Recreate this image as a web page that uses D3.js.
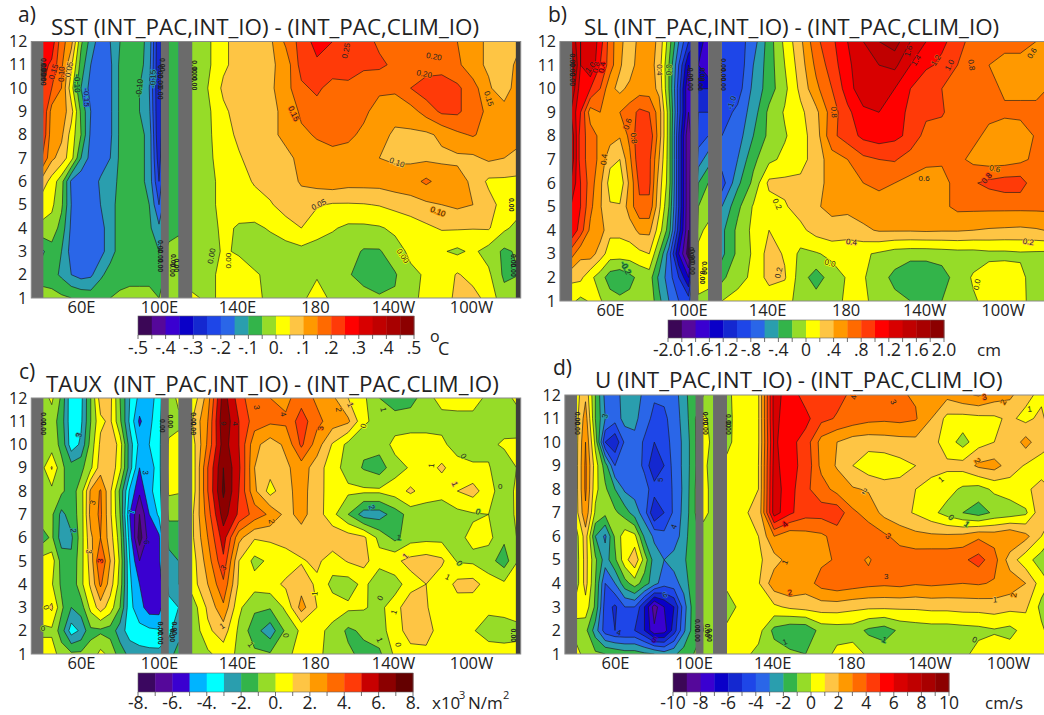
<!DOCTYPE html>
<html lang="en">
<head>
<meta charset="UTF-8">
<title>Indian Ocean interannual forcing differences</title>
<style>
  body { margin: 0; background: #fff; font-family: "Open Sans", sans-serif; }
  svg { display: block; }
  .axis text { font-family: "Open Sans", sans-serif; fill: #222; }
  .clabel { font-family: "Liberation Sans", sans-serif; fill: #222; text-anchor: middle; dominant-baseline: central; paint-order: stroke; }
</style>
</head>
<body>
<svg width="1044" height="715"></svg>
<script src="https://d3js.org/d3.v7.min.js"></script>
<script>
const monthTicks = [1,2,3,4,5,6,7,8,9,10,11,12];
const lonTicks = [60,100,140,180,220,260];
const lonTickLabels = ["60E","100E","140E","180","140W","100W"];
const ioLons = [40,45,50,55,60,65,70,75,80,85,90,95,100,105,110];
const pacLons = [117,125,133,141,149,157,165,173,181,189,197,205,213,221,229,237,245,253,261,269,277,285];

// rows run from month 12 (top) down to month 1
const sstIO = [
  [.3,.28,.17,.12,-.04,-.12,-.18,-.15,-.1,-.08,-.08,-.12,-.3,-.08,-.07],
  [.27,.24,.16,.06,-.07,-.15,-.18,-.16,-.09,-.07,-.08,-.13,-.3,-.08,-.07],
  [.25,.2,.15,.02,-.1,-.17,-.18,-.16,-.09,-.07,-.1,-.15,-.3,-.08,-.07],
  [.26,.13,.13,.07,-.06,-.15,-.19,-.16,-.09,-.07,-.1,-.14,-.3,-.08,-.07],
  [.25,.12,.11,.03,-.05,-.16,-.19,-.16,-.09,-.07,-.08,-.12,-.3,-.08,-.07],
  [.2,.11,.08,.02,-.1,-.17,-.19,-.15,-.09,-.07,-.08,-.12,-.28,-.08,-.07],
  [.08,.03,-.03,-.16,-.19,-.19,-.14,-.12,-.09,-.07,-.08,-.12,-.25,-.08,-.07],
  [.02,.01,-.04,-.15,-.2,-.2,-.15,-.12,-.08,-.07,-.07,-.1,-.2,-.08,-.07],
  [-.01,-.02,-.07,-.16,-.2,-.2,-.17,-.12,-.08,-.07,-.07,-.09,-.14,-.08,-.06],
  [-.11,-.07,-.1,-.17,-.2,-.2,-.17,-.12,-.08,-.07,-.07,-.08,-.1,-.03,-.03],
  [-.07,-.08,-.11,-.15,-.17,-.16,-.11,-.08,-.07,-.07,-.07,-.07,-.08,-.03,-.03],
  [-.03,-.03,-.04,-.05,-.06,-.07,-.06,-.05,-.04,-.03,-.03,-.03,-.05,-.03,-.03]
];
const sstPac = [
  [-.03,-.01,.04,.07,.08,.09,.16,.22,.27,.25,.23,.22,.19,.18,.17,.16,.16,.15,.12,.09,.07,.09],
  [-.03,-.01,.04,.07,.08,.09,.12,.22,.24,.23,.22,.21,.21,.19,.18,.17,.17,.16,.12,.09,.07,.12],
  [-.03,0,.06,.08,.09,.09,.13,.19,.21,.18,.19,.17,.16,.16,.2,.23,.24,.21,.17,.11,.06,.15],
  [-.03,-.01,.04,.07,.08,.09,.11,.16,.18,.17,.17,.16,.13,.12,.13,.17,.21,.21,.17,.14,.13,.13],
  [-.03,-.01,.03,.06,.08,.09,.11,.14,.155,.16,.16,.14,.12,.09,.09,.09,.11,.14,.155,.13,.12,.12],
  [-.03,-.01,.02,.045,.07,.08,.09,.11,.13,.14,.13,.12,.1,.09,.09,.09,.09,.09,.09,.11,.1,.08],
  [-.03,-.01,.01,.03,.055,.07,.08,.105,.12,.13,.12,.12,.12,.13,.13,.16,.13,.12,.09,.04,.04,.04],
  [-.03,-.01,.01,.02,.03,.045,.07,.08,.055,.045,.045,.047,.053,.065,.08,.09,.1,.11,.1,.07,.03,.02],
  [-.03,-.02,.01,-.005,-.01,.005,.03,.05,.02,.005,-.01,-.01,-.005,.01,.02,.04,.055,.055,.052,.055,.01,-.02],
  [-.03,-.02,.005,-.005,-.02,-.025,-.025,-.015,-.02,-.025,-.03,-.055,-.055,-.02,.01,.01,.005,-.01,.01,-.02,-.06,-.04],
  [-.03,-.01,.01,.02,.005,-.01,-.02,-.015,-.005,-.03,-.045,-.07,-.075,-.055,-.01,.005,.02,.055,.03,.01,-.06,-.05],
  [.01,-.01,.01,.02,.01,-.01,-.02,-.01,.02,-.01,-.02,-.03,-.045,-.045,-.01,.01,.03,.06,.07,.03,-.03,-.03]
];

const slIO = [
  [1.6,1.2,1.4,1.1,.7,.45,.3,.45,.5,.35,-.1,-.6,-1,-1.2,-1.6],
  [1.8,1.2,1.4,1,.7,.42,.3,.5,.5,.3,-.2,-.8,-1.4,-1.4,-1.6],
  [1.6,1.1,1,.8,.45,.35,.45,.5,.5,.35,-.2,-.9,-1.6,-1.2,-1.2],
  [1.4,1,.5,.6,.58,.6,.7,.85,.8,.5,-.1,-.9,-1.6,-1,-1],
  [1.6,.9,.7,.55,.5,.42,.65,.95,.95,.5,-.1,-1,-1.8,-.9,-.8],
  [1.6,.9,.7,.55,.25,.2,.55,.95,.85,.4,-.1,-1,-1.8,-.7,-.5],
  [1.4,1,.7,.45,.12,.06,.45,.85,.85,.3,-.1,-1,-1.8,-.4,-.2],
  [1.2,1,.65,.42,.22,.22,.5,.75,.75,.25,-.2,-1,-1.8,-.2,-.1],
  [1.2,.9,.55,.5,.25,.25,.3,.45,.45,.1,-.3,-1.1,-1.8,-.05,.05],
  [.7,.45,.5,.3,.1,.1,.1,.15,.2,-.2,-.7,-1.4,-1.9,.05,.05],
  [.25,.25,.05,-.1,-.3,-.35,-.25,-.15,-.1,-.45,-.7,-1,-1.4,.05,.02],
  [.05,-.05,.02,.02,-.1,-.15,-.15,-.1,-.05,-.35,-.6,-.8,-.9,-.02,-.02]
];
const slPac = [
  [-.9,-.9,-.7,-.3,.05,.35,.75,.95,1.2,1.4,1.6,1.7,1.4,1.2,1.05,.9,.7,.65,.65,.65,.6,.6],
  [-.9,-.95,-.6,-.3,0,.3,.65,.9,1.15,1.35,1.4,1.45,1.2,1.05,.95,.8,.7,.6,.55,.55,.55,.62],
  [-.8,-.9,-.55,-.3,-.05,.25,.55,.8,1.1,1.35,1.3,1.2,1,.8,.8,.7,.75,.7,.55,.55,.55,.62],
  [-.9,-.75,-.5,-.15,.02,.15,.35,.7,.95,1.15,1.2,1.1,.95,.85,.82,.7,.68,.65,.65,.65,.65,.65],
  [-.8,-.7,-.4,-.15,-.02,.12,.3,.75,.9,1.05,1.1,1.05,.95,.72,.72,.68,.65,.55,.45,.5,.62,.65],
  [-.7,-.6,-.25,-.05,.05,.12,.3,.5,.6,.75,.8,.82,.7,.65,.62,.65,.55,.5,.5,.55,.65,.65],
  [-.9,-.45,-.15,.25,.25,.25,.3,.5,.55,.6,.65,.6,.55,.5,.55,.65,.78,.85,.9,.9,.65,.65],
  [-.6,-.25,.02,.1,.18,.28,.38,.45,.45,.5,.5,.5,.42,.5,.55,.65,.65,.65,.65,.65,.65,.65],
  [-.45,-.15,.05,.2,.12,.15,.28,.33,.3,.36,.42,.42,.42,.43,.42,.42,.4,.38,.37,.36,.38,.42],
  [-.45,-.15,.03,.28,.18,-.05,-.02,.05,.05,.03,-.03,-.1,-.12,-.12,-.1,-.08,-.08,-.05,-.05,-.03,-.04,-.05],
  [-.25,-.05,.03,.28,.22,-.1,-.3,-.1,.02,.02,-.12,-.25,-.38,-.38,-.3,-.1,.02,.1,.12,.05,-.1,-.1],
  [0,.05,.05,.05,.05,-.05,-.1,-.1,.05,.05,-.1,-.15,-.2,-.25,-.2,-.1,-.02,.05,.05,.03,-.05,-.05]
];

const tauxIO = [
  [-.5,.2,-1.2,-3.8,-3.3,-1,1.5,1.3,-1,-3,-4.3,-4.2,-3.8,-.5,.2],
  [-.5,-.5,-1.5,-3.7,-3.2,-1,.8,1.2,-.8,-3.2,-5.2,-4.2,-3.5,-.5,-.2],
  [-.4,-.6,-1.2,-3.6,-2.8,-.6,1.2,2,.5,-2.5,-4.3,-4,-3.5,.2,.3],
  [-.3,1.1,-.8,-1.5,-1.3,-.2,1.5,1.8,.3,-2.5,-5,-4.5,-3.5,.4,.3],
  [-.5,-.3,-.8,-1.5,-.5,2.2,3.1,1.2,-1.2,-4.2,-5.8,-4.2,-3.6,.2,.1],
  [-.3,-.8,-2.3,-1.5,-.6,2.4,3.2,1.2,-1,-5,-7,-5,-3.8,-.8,-.8],
  [-1.5,-.8,-2.5,-2.2,-.5,1.8,3,1.5,-.5,-4.5,-7.5,-5.5,-5.2,-1.5,-1.5],
  [.4,.5,-1.4,-1.8,-.4,1.5,4,2,-.2,-4,-6,-5.5,-5.2,-2.5,-2],
  [.2,.1,-1.2,-1.8,-.3,1.2,3.2,1.5,-.4,-3.8,-5,-5.3,-6,-2.5,-2],
  [.6,1.2,-.8,-2,-1.5,.3,1.5,.5,-1,-3.7,-4.6,-5.5,-5.5,-3.5,-3],
  [-.2,-.2,-1.5,-3.5,-2.8,-1.2,-1.2,-1.4,-2.5,-3.5,-3.7,-3.8,-3.9,-3.2,-2.5],
  [.5,.5,-.5,-.8,-.8,-.7,.3,-.3,-1.5,-2.3,-2.6,-2.7,-2.7,-2.5,-1.5]
];
const tauxPac = [
  [.2,2.5,6.5,4.5,3.2,3,2.7,3.6,2.8,2.2,1,.2,-1,-1.6,-1.5,-.3,.3,.5,.5,-.3,-.5,.5],
  [1,3,6.8,5,3.5,3.2,3.2,4.5,3.3,2.5,2.2,.2,-.4,-.5,-.3,-.3,-.3,-.4,-.4,-.4,-.6,-.5],
  [.5,3.2,6.5,5,2.3,1.5,2.2,4.2,2.5,.9,-.3,-.8,-.6,.3,.3,.3,.2,-.4,-.6,-.3,.2,.2],
  [.3,4,7,5.2,2,1.4,1.8,2.5,1.5,.4,-.4,-1.1,-1.5,-.4,.1,.5,1.2,.4,.2,.1,-.8,.2],
  [.3,4,7.2,5,2.2,.6,1.7,2.4,1.4,.5,.2,.2,.2,.5,1.2,.5,.3,1,1.4,.4,-.6,.4],
  [.8,3.5,6.5,4.8,3.6,2.8,1.7,2.3,1.5,.3,-1,-2.5,-2.5,-1.5,-.6,-.5,-.5,-.3,-.1,0,-.5,.3],
  [.8,3,5.5,2.3,1.1,1.2,1.5,1.6,1.6,1.7,1.5,1.2,-.3,-1.3,-.4,-.3,-.3,-.2,.2,.3,-.8,.2],
  [.5,2.5,4.8,1,-.3,.2,.4,.9,1.2,.5,1.1,1.3,.4,.8,1.3,1.5,1.2,-.1,-.2,-.6,-1.5,.2],
  [.5,2,3.8,.8,.4,.6,1.2,1.6,.8,-.3,-.5,.3,-.8,-.5,.6,1,.3,1.3,1.4,.5,.2,.5],
  [-.6,1.2,2.8,.2,-.8,-.9,.2,2.4,1,.5,.2,.1,-.3,.6,1.7,1.1,.3,.5,.3,.3,.6,.8],
  [-.8,.8,1.5,-.2,-1.6,-2.6,-.8,.2,.3,-.3,-1.2,-.8,-.4,.5,1.5,1.5,.4,.1,.1,-.6,-.8,-.4],
  [-.3,-.2,.5,-.2,-.8,-.9,-.2,.3,.3,-.5,-.8,-1.3,-1.2,.2,.6,.7,.7,.7,.7,.7,.7,.5]
];

const uIO = [
  [.5,1.8,-1,-3.3,-3.4,-2.6,-2.6,-3.2,-3.8,-3.8,-3.5,-2.4,-1.3,-1,-.5],
  [.5,2.5,-1,-3,-3.6,-2.6,-2.8,-3.4,-4.4,-4.2,-3.6,-2.6,-1.3,.3,-.5],
  [.5,3,-.3,-5,-5.8,-3.8,-3.2,-4.2,-5,-4.5,-3.6,-2.8,-1.4,.5,-.3],
  [.5,3.2,.5,-1.5,-4,-4,-3.5,-4.2,-6,-5,-3.6,-2.8,-1.4,.3,-.5],
  [.5,3.2,.3,-.8,-2,-3.2,-3.4,-3.6,-4.5,-4.8,-3.8,-2.8,-1.3,.5,-.5],
  [.5,2.8,-.2,-.7,-.8,-1.5,-2.5,-3.5,-6,-5,-3.8,-2.7,-1.3,.5,-.5],
  [-.5,1.5,-2,-3.2,-.8,.6,.3,-2.2,-3.2,-3.7,-3.6,-2.5,-1.2,-.8,-.5],
  [-.6,1.4,-.8,-2.5,-1.2,.6,1.8,-.4,-2.5,-3,-2.6,-2.2,-1.2,-.8,-.5],
  [-.6,1.4,-1,-4,-3,-1.4,-.5,-1.5,-2.6,-3.6,-3.4,-2.6,-1.3,-.8,-.5],
  [.5,.6,-1.2,-4.5,-5.2,-4,-4,-6,-8.5,-7,-6,-3.5,-1.5,-.8,-.5],
  [-.5,-.7,-2.5,-4.5,-5,-5,-5,-6,-7.8,-7.5,-5.5,-3.2,-1.5,-1,-.5],
  [.5,-.5,-.8,-1,-1.2,-1.5,-1.5,-1.8,-2,-2.5,-2.2,-1.5,-1,-.8,-.5]
];
const uPac = [
  [-.2,.5,.9,6.4,5.5,4.6,4.5,4.3,3.8,3.5,3.2,3.1,2.9,2.5,2.3,2.8,3.1,2.5,2.2,1.3,.7,.5],
  [-.3,.6,.9,6.4,5.2,5.3,4.3,3.9,3.6,3.3,3.2,3.3,3.1,2,.7,.6,.7,.8,1.2,.7,1.3,-.3],
  [-.3,.7,.9,6.2,5.3,4.6,2.6,2,1.5,1.4,1.5,1.6,1.7,1.4,.5,-.4,.6,1,1.2,2.4,1.3,1],
  [.3,.9,1,6.4,5.2,4.8,2.7,1.9,1,.4,.4,.7,1,1.3,1.2,1.4,2.2,2.4,1.5,.9,.7,.8],
  [.3,.9,1,6.5,5.4,4.2,3.5,2.6,2.1,1.9,1.4,1.3,1,.7,.4,-.2,-.4,.2,.5,.9,1.2,.9],
  [.3,.9,1.2,6.5,5.2,4.4,4.4,4.7,3.2,2.6,1.7,1.3,.9,.3,-.4,-1,-1.5,-.8,-.6,-.2,1.8,.8],
  [.3,.7,1,3,2.3,2.6,2.8,3.4,3.6,3.6,3.2,2.6,2.3,2.2,2.2,2.3,2.8,2.6,3,2.3,1,-.3],
  [.2,.5,.8,1.6,2.4,2.7,2.8,3.1,3.3,2.9,3.5,3.6,3.6,3.7,3.7,3.8,4.4,3.4,1.5,.4,-.5,-.6],
  [.2,.5,.9,2.6,3,2.5,3.4,3.7,3.5,3.3,3.2,3.3,3.1,3.2,3.1,3,3.1,2.9,2.6,2,.5,-.5],
  [-.4,.3,.6,.8,1.2,1.4,1.5,1.5,1.3,1.2,1.2,1.2,1.2,1.3,1.3,1.4,1.4,1.5,1.3,1.2,-.3,-.5],
  [.2,.3,.4,-1.3,-1.8,-1.8,-.6,-.5,-.5,-1.2,-1.5,-.8,-.6,-.5,-.5,-.4,-.3,-.1,-.3,.4,.2,-.8],
  [.5,.3,-.3,-.5,-.8,-1,-.6,.3,.5,-.2,-.4,-.4,-.4,-.4,-.4,-.3,.4,.5,.5,.5,.4,-.2]
];

// contour levels: band edges of the colour bars
const sstLevels = d3.range(-10, 11).map(i => i * 0.05);
const slLevels = d3.range(-10, 11).map(i => i * 0.2);
const tauxLevels = d3.range(-8, 9);
const uLevels = d3.range(-10, 11);

const ramp20 = ["#3b0756","#55089a","#3a00d0","#0a00c8","#1428d0","#1e46e8","#2a66e8","#2a9eae","#33b44a","#96dc28",
                "#ffff00","#fec544","#ff9900","#ff6a00","#ff3a08","#ff0000","#d80000","#c00000","#a80000","#8c0000"];
const ramp16 = ["#3b0760","#55089a","#3a00d0","#00b4ff","#00ffff","#2a9eae","#33b44a","#96dc28",
                "#ffff00","#fec544","#ff9900","#ff6a00","#ff3a08","#c80000","#8c0000","#640000"];

const sstBarLabels = ["-.5","-.4","-.3","-.2","-.1","0.",".1",".2",".3",".4",".5"];
const slBarLabels = ["-2.0","-1.6","-1.2","-.8","-.4","0",".4",".8","1.2","1.6","2.0"];
const tauxBarLabels = ["-8.","-6.","-4.","-2.","0.","2.","4.","6.","8."];
const uBarLabels = ["-10","-8","-6","-4","-2","0","2","4","6","8","10"];

// contour labels as lon, month, text
const sstNotes = [[196,11.6,"0.25"],[241,11.35,"0.20"],[236,10.6,"0.20"],[169,8.9,"0.15"],[269,9.55,"0.15"],[222,6.8,"0.10"],
  [182,5,"0.05"],[243,4.7,"0.10"],[127,2.8,"0.00"],[135.5,2.6,"0.00"],[225,2.8,"0.00"],[90,10,"-0.10"],[97,10.4,"-0.15"],[63,9.6,"-0.15"],
  [58,10.2,"-0.10"],[54,10.8,"0.05"],[50,10.6,"0.10"],[46,10.7,"0.15"]];
const slNotes = [[212,11.6,"1.6"],[216,11.2,"1.4"],[226,11.2,"1.2"],[233,11,"1.0"],[244,11,"0.8"],[275,11.5,"0.6"],[174,9,"0.8"],[69,8.5,"0.6"],
  [72,7.9,"0.8"],[57,7,"0.4"],[220,6.2,"0.6"],[256,6.6,"0.6"],[252,6.2,"0.8"],[145,5.1,"0.2"],[183,3.5,"0.4"],[172,2.6,"0.0"],[273,3.5,"0.2"],
  [146,2.2,"0.2"],[247,1.7,"0.0"],[68,2.4,"-0.2"],[122,9.4,"-1.0"],[50,10.9,"1.0"],[53,10.9,"0.8"],[56,10.9,"0.4"],[85,10.8,"0.4"],[90,10.8,"0.0"]];
const tauxNotes = [[150,11.6,"3"],[163.6,11.3,"4"],[183,10.7,"3"],[192,11.5,"2"],[198,11.7,"1"],[205,10.8,"0"],[215,11.5,"1"],[59,10.4,"3"],
  [256,9.5,"0"],[239.7,9.1,"1"],[251.6,8.3,"1"],[275,8.2,"0"],[263.6,7.1,"0"],[209,7.3,"2"],[157.6,6.7,"2"],[223,6,"1"],[226.5,5.2,"1"],[254,4.9,"0"],
  [248,4.3,"1"],[220.5,2.8,"1"],[213.5,3.4,"0"],[180,3.6,"1"],[213,1.6,"1"],[222.6,1.4,"0"],[147,1.4,"1"],[165,1.8,"0"],[132.5,2.2,"1"],[133,4.7,"3"],
  [133,10.9,"6"],[139,10.9,"4"],[66,7.5,"3"],[64,5.4,"3"],[70,5,"3"],[93,8.8,"3"],[93.5,5.8,"6"],[86,7.1,"7"],[56,6.3,"2"],[40.5,2.1,"0"],[42,3,"0"]];
const uNotes = [[181.6,11.9,"4"],[201.6,11.7,"3"],[248,11.9,"3"],[257.6,11.7,"2"],[271,11.4,"1"],[244.4,9.2,"2"],[226,8.4,"1"],[187,7.9,"2"],[231,6.8,"0"],
  [239,6.5,"1"],[199,6,"3"],[146.5,6.5,"4"],[83,8.4,"5"],[90,6.4,"4"],[198,4.3,"3"],[149,3.6,"2"],[253.4,3.3,"1"],[263,3.5,"2"],[243,1.6,"0"],[197,1.6,"1"],
  [146.5,1.5,"1"],[62,1.9,"4"],[80,1.6,"5"],[85.4,3.5,"6"],[55,11.1,"3"],[146.5,4.9,"1"]];

// overprinted labels where the contours run into land
const sstBlots = [[41,10.4],[41,10.6],[41,10.8],[41,11],[101,9.8],[101,10.3],[101,10.7],[102,11],[118,10.2],[118,10.6],[118,10.9],[101,2.4],[101,2.8],[101,3.2],[107,2.2],[107.5,2.6],[109,2.4],[282,2.2],[282,2.6],[281,5]];
const slBlots = [[41,10.4],[41,10.8],[41,11.2],[101,10.2],[101,10.6],[102,2.4],[102,2.9],[107,2],[108,2.4],[106,10.2],[107,10.6],[118,10.2],[118,10.6],[118,11],[101.5,3]];
const tauxBlots = [[41,10.7],[41,11.1],[102,10.8],[106,11],[117.5,10.7],[117.5,11.1],[101,1.7],[101,2.1],[107,1.8],[108,2.1],[282,1.8]];
const uBlots = [[41,10.6],[41,11],[106,10.6],[106,11],[118,10.6],[118,10.9],[102,1.8],[102,2.2],[107,2],[108,1.8]];

const panels = [
  { letter:"a)", title:"SST (INT_PAC,INT_IO) - (INT_PAC,CLIM_IO)", io:sstIO, pac:sstPac, levels:sstLevels, colors:ramp20, barLabels:sstBarLabels, notes:sstNotes, blots:sstBlots,
    xr:[81,471], yr:[298,41.5], letterAt:[18,22], titleAt:[51,35], bar:[138,414,316,335], barLabelY:354 },
  { letter:"b)", title:"SL (INT_PAC,INT_IO) - (INT_PAC,CLIM_IO)", io:slIO, pac:slPac, levels:slLevels, colors:ramp20, barLabels:slBarLabels, notes:slNotes, blots:slBlots,
    xr:[610,1002.7], yr:[301,41.5], letterAt:[548,22], titleAt:[584,35], bar:[668,944,320,338], barLabelY:356 },
  { letter:"c)", title:"TAUX  (INT_PAC,INT_IO) - (INT_PAC,CLIM_IO)", io:tauxIO, pac:tauxPac, levels:tauxLevels, colors:ramp16, barLabels:tauxBarLabels, notes:tauxNotes, blots:tauxBlots,
    xr:[81,471], yr:[654,398], letterAt:[19,379], titleAt:[46,392], bar:[138,413,673,692], barLabelY:709 },
  { letter:"d)", title:"U (INT_PAC,INT_IO) - (INT_PAC,CLIM_IO)", io:uIO, pac:uPac, levels:uLevels, colors:ramp20, barLabels:uBarLabels, notes:uNotes, blots:uBlots,
    xr:[615,1008], yr:[654,395], letterAt:[553,375], titleAt:[595,388], bar:[673,949,673,692], barLabelY:709 }
];

const svg = d3.select("svg");
let clipId = 0;

function drawField(g, grid, lons, p, x, y) {
  const rows = grid.length, cols = lons.length;
  const values = grid.flat();
  if (values.length !== rows * cols) throw new Error("bad grid " + p.letter);
  const step = lons[1] - lons[0];
  const path = d3.geoPath(d3.geoTransform({
    point(gx, gy) { this.stream.point(x(lons[0] + (gx - 0.5) * step), y(12 - (gy - 0.5))); }
  }));
  const id = "clip" + (clipId++);
  g.append("clipPath").attr("id", id).append("rect")
    .attr("x", x(lons[0])).attr("y", y(12))
    .attr("width", x(lons[cols - 1]) - x(lons[0])).attr("height", y(1) - y(12));
  const f = g.append("g").attr("clip-path", `url(#${id})`);
  f.append("rect").attr("x", x(lons[0])).attr("y", y(12))
    .attr("width", x(lons[cols - 1]) - x(lons[0])).attr("height", y(1) - y(12)).attr("fill", p.colors[0]);
  const inner = p.levels.slice(1, -1);
  const shapes = d3.contours().size([cols, rows]).thresholds(inner)(values);
  f.selectAll("path.fill").data(shapes).join("path").attr("class", "fill")
    .attr("d", path).attr("fill", (d, i) => p.colors[i + 1]);
  f.selectAll("path.line").data(shapes).join("path").attr("class", "line")
    .attr("d", path).attr("fill", "none").attr("stroke", "#1a1a1a").attr("stroke-width", 0.75).attr("stroke-opacity", 0.85);
}

// contour labels follow the local slope of the grid
function drawNote(g, note, p, x, y) {
  const [lon, month, text] = note;
  const grid = lon < 113 ? p.io : p.pac;
  const lons = lon < 113 ? ioLons : pacLons;
  const i = d3.bisectCenter(lons, lon), j = 12 - Math.round(month);
  const at = (a, b) => grid[Math.max(0, Math.min(11, b))][Math.max(0, Math.min(lons.length - 1, a))];
  const dvx = (at(i + 1, j) - at(i - 1, j)) / (x(lons[1]) - x(lons[0]));
  const dvy = (at(i, j + 1) - at(i, j - 1)) / (y(1) - y(2));
  let angle = Math.atan2(-dvx, dvy) * 180 / Math.PI;
  if (angle > 90) angle -= 180;
  if (angle < -90) angle += 180;
  const band = d3.bisectRight(p.levels, at(i, j)) - 1;
  g.append("text").attr("class", "clabel").attr("font-size", 8)
    .attr("stroke", p.colors[Math.max(0, Math.min(p.colors.length - 1, band))]).attr("stroke-width", 1.5)
    .attr("transform", `translate(${x(lon)},${y(month)}) rotate(${angle})`).text(text);
}

panels.forEach(p => {
  const g = svg.append("g");
  const x = d3.scaleLinear().domain([60, 260]).range(p.xr);
  const y = d3.scaleLinear().domain([1, 12]).range(p.yr);

  drawField(g, p.io, ioLons, p, x, y);
  drawField(g, p.pac, pacLons, p, x, y);

  // land masks
  [[34.5, 40.7], [101, 105], [110, 117]].forEach(b => {
    g.append("rect").attr("x", x(b[0])).attr("y", y(12)).attr("width", x(b[1]) - x(b[0])).attr("height", y(1) - y(12)).attr("fill", "#6b6b6b");
  });
  g.append("rect").attr("x", x(283)).attr("y", y(12)).attr("width", x(285.5) - x(283)).attr("height", y(1) - y(12)).attr("fill", "#3d3d3d");
  g.append("rect").attr("x", x(34.5)).attr("y", y(12)).attr("width", x(285.5) - x(34.5)).attr("height", y(1) - y(12))
    .attr("fill", "none").attr("stroke", "#8a8a8a").attr("stroke-width", 1);

  p.notes.forEach(n => drawNote(g, n, p, x, y));
  g.selectAll("text.blot").data(p.blots).join("text").attr("class", "clabel blot").attr("font-size", 7).attr("font-weight", "bold")
    .attr("transform", d => `translate(${x(d[0])},${y(d[1])}) rotate(90)`).text("0.00");

  // axes, labels only
  const xAxis = g.append("g").attr("class", "axis").attr("transform", `translate(0,${y(1)})`)
    .call(d3.axisBottom(x).tickValues(lonTicks).tickSize(0).tickPadding(3).tickFormat((d, i) => lonTickLabels[i]));
  xAxis.select(".domain").remove();
  xAxis.selectAll("text").attr("font-size", 16.5);
  const yAxis = g.append("g").attr("class", "axis").attr("transform", `translate(${x(34.5)},0)`)
    .call(d3.axisLeft(y).tickValues(monthTicks).tickSize(0).tickPadding(4).tickFormat(d3.format("d")));
  yAxis.select(".domain").remove();
  yAxis.selectAll("text").attr("font-size", 16);

  g.append("text").attr("x", p.letterAt[0]).attr("y", p.letterAt[1]).attr("font-size", 21).attr("fill", "#222").text(p.letter);
  g.append("text").attr("x", p.titleAt[0]).attr("y", p.titleAt[1]).attr("font-size", 22.4).attr("fill", "#222").attr("xml:space", "preserve")
    .style("white-space", "pre").text(p.title);

  // colour bar
  const [bx0, bx1, by0, by1] = p.bar;
  const n = p.colors.length;
  const bar = d3.scaleLinear().domain([p.levels[0], p.levels[n]]).range([bx0, bx1]);
  g.selectAll("rect.band").data(p.colors).join("rect").attr("class", "band")
    .attr("x", (d, i) => bar(p.levels[i])).attr("y", by0)
    .attr("width", (d, i) => bar(p.levels[i + 1]) - bar(p.levels[i]) + 0.4).attr("height", by1 - by0).attr("fill", d => d);
  g.append("rect").attr("x", bx0).attr("y", by0).attr("width", bx1 - bx0).attr("height", by1 - by0)
    .attr("fill", "none").attr("stroke", "#666").attr("stroke-width", 0.6);
  g.selectAll("line.tick").data(p.levels).join("line").attr("class", "tick")
    .attr("x1", d => bar(d)).attr("x2", d => bar(d)).attr("y1", by1).attr("y2", by1 + 4)
    .attr("stroke", "#333").attr("stroke-width", 0.7);
  g.selectAll("text.barlabel").data(p.barLabels).join("text").attr("class", "barlabel")
    .attr("x", (d, i) => bar(p.levels[i * 2])).attr("y", p.barLabelY)
    .attr("text-anchor", "middle").attr("font-size", 17.5).attr("fill", "#222").text(d => d);
});

// units
const unit = (x, y, t, s) => svg.append("text").attr("x", x).attr("y", y).attr("font-size", s).attr("fill", "#222").text(t);
unit(430, 342, "o", 16); unit(438, 355, "C", 18);
unit(977, 356, "cm", 17);
unit(432, 709, "x10", 17); unit(459, 699, "3", 11); unit(468, 709, "N/m", 17); unit(503, 699, "2", 11);
unit(985, 709, "cm/s", 17);
</script>
</body>
</html>
